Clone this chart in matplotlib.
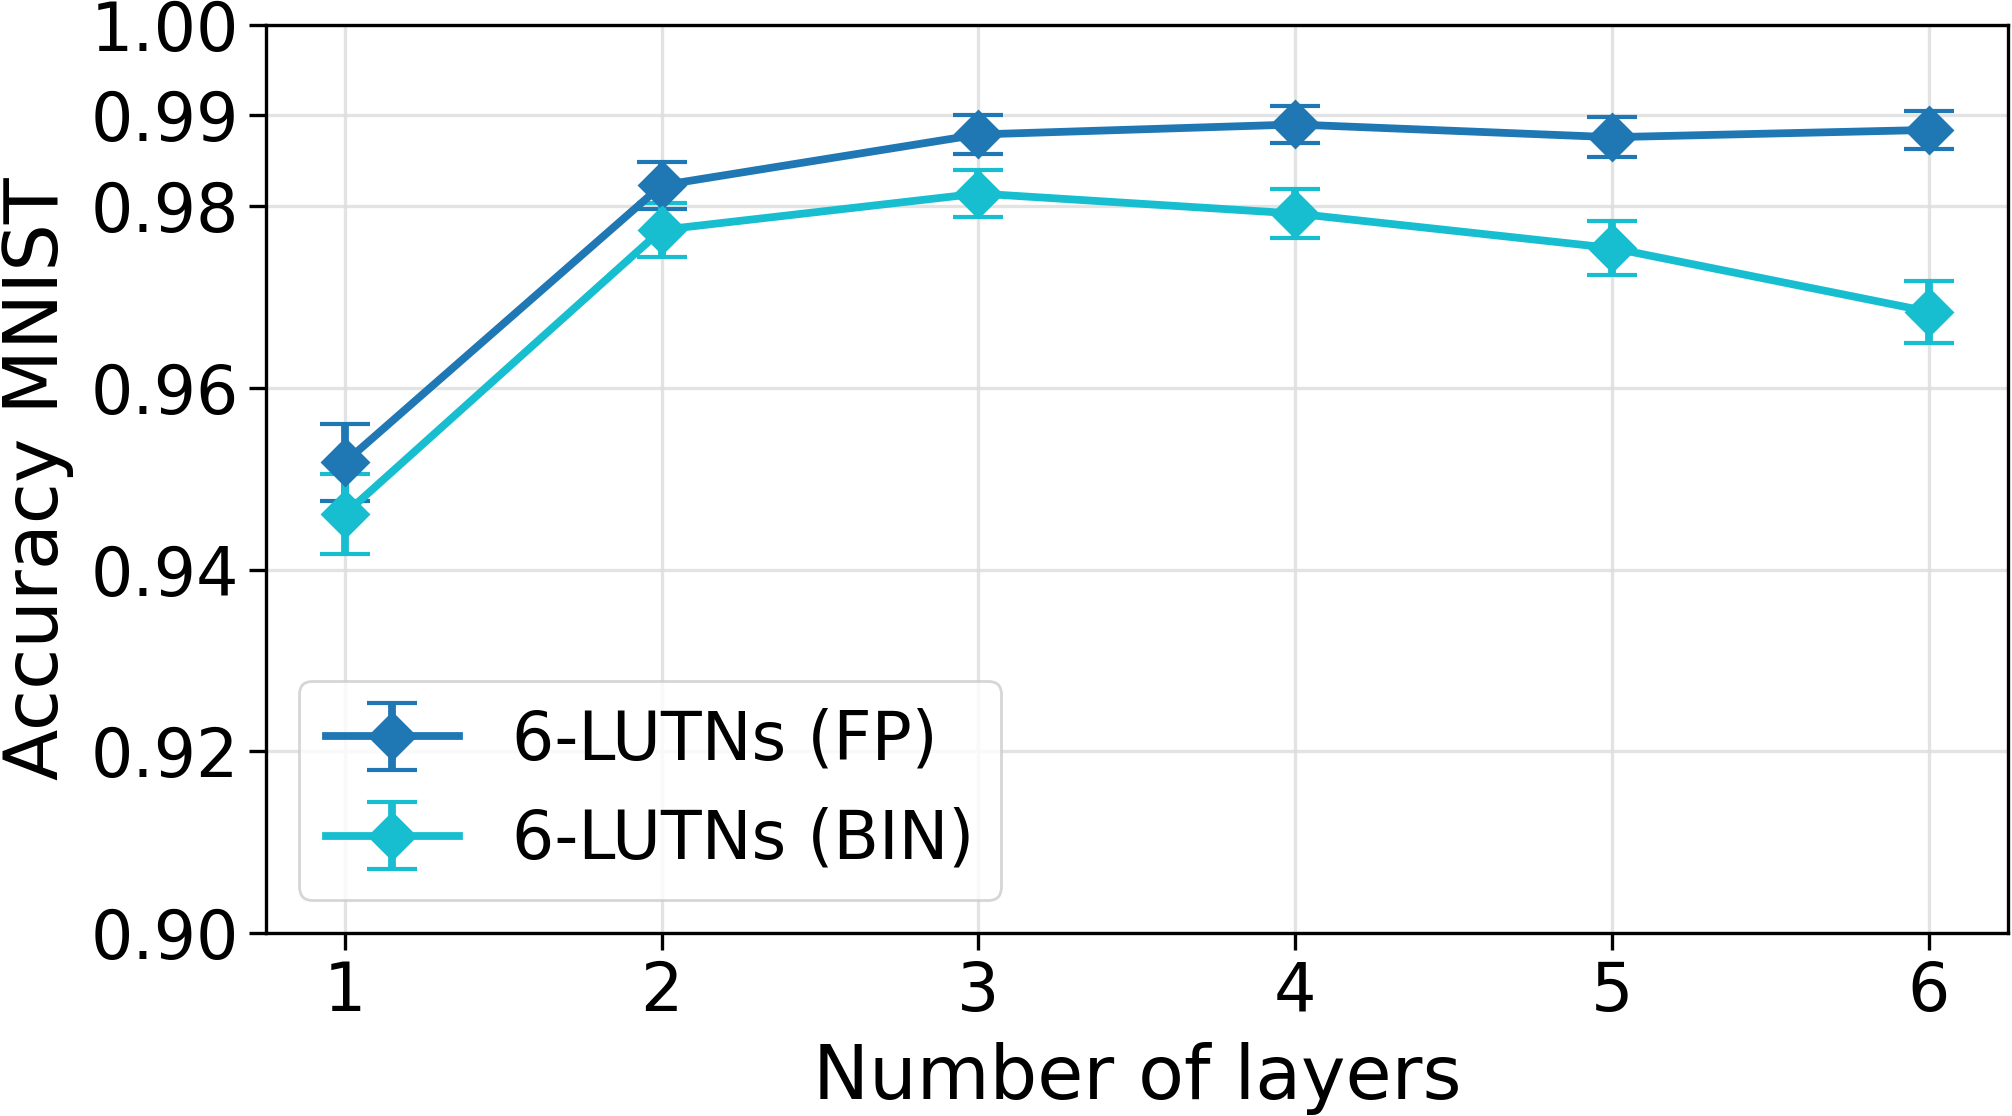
import matplotlib

matplotlib.use("Agg")
import matplotlib.pyplot as plt

layers = [1, 2, 3, 4, 5, 6]
fp_acc = [0.9518, 0.9823, 0.9879, 0.9890, 0.9876, 0.9884]
fp_err = [0.0042, 0.0026, 0.0021, 0.0020, 0.0022, 0.0021]
bin_acc = [0.9461, 0.9774, 0.9814, 0.9792, 0.9754, 0.9684]
bin_err = [0.0044, 0.0030, 0.0026, 0.0027, 0.0030, 0.0034]
yticks = [0.90, 0.92, 0.94, 0.96, 0.98, 0.99, 1.00]

fig = plt.figure(figsize=(10.06, 5.58), dpi=200)
ax = fig.add_axes([0.132, 0.164, 0.866, 0.814])

style = dict(marker="D", markersize=11.5, linewidth=2.8, capsize=9, capthick=1.5)
ax.errorbar(layers, fp_acc, yerr=fp_err, color="#1f77b4", label="6-LUTNs (FP)", **style)
ax.errorbar(layers, bin_acc, yerr=bin_err, color="#17becf", label="6-LUTNs (BIN)", **style)

ax.set_ylim(0.90, 1.00)
ax.set_yticks(yticks)
ax.set_yticklabels([f"{t:.2f}" for t in yticks])
ax.set_xticks(layers)
ax.tick_params(labelsize=24, length=6, width=1.2)
ax.grid(True, color="#dddddd", linewidth=1.2, alpha=0.8)
ax.set_axisbelow(True)
for s in ax.spines.values():
    s.set_linewidth(1.2)

ax.set_xlabel("Number of layers", fontsize=27, labelpad=6)
ax.set_ylabel("Accuracy MNIST", fontsize=27, labelpad=6)
ax.legend(loc="lower left", fontsize=24, handlelength=2.0)

fig.savefig("out.png", dpi=200)
